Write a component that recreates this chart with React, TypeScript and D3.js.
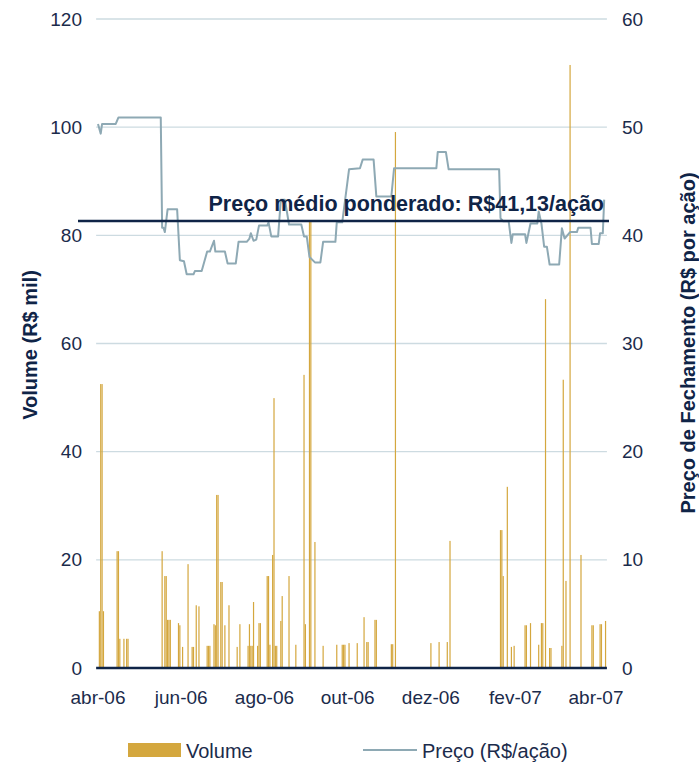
import React from "react";
import * as d3 from "d3";

const volumeDates = [
  "2006-04-02","2006-04-03","2006-04-04","2006-04-05","2006-04-15","2006-04-16","2006-04-17","2006-04-20","2006-04-22","2006-04-23",
  "2006-05-18","2006-05-20","2006-05-21","2006-05-22","2006-05-23","2006-05-24","2006-05-30","2006-05-31",
  "2006-06-02","2006-06-06","2006-06-09","2006-06-10","2006-06-12","2006-06-14","2006-06-20","2006-06-21","2006-06-22","2006-06-25","2006-06-26","2006-06-27","2006-06-28","2006-06-30",
  "2006-07-01","2006-07-03","2006-07-06","2006-07-12","2006-07-14","2006-07-20","2006-07-21","2006-07-22","2006-07-23","2006-07-24","2006-07-27","2006-07-28","2006-07-29",
  "2006-08-03","2006-08-04","2006-08-05","2006-08-07","2006-08-08","2006-08-09","2006-08-10","2006-08-13","2006-08-14","2006-08-19","2006-08-24","2006-08-30","2006-08-31",
  "2006-09-03","2006-09-04","2006-09-07","2006-09-13","2006-09-23","2006-09-27","2006-09-28","2006-09-29",
  "2006-10-02","2006-10-08","2006-10-13","2006-10-15","2006-10-16","2006-10-21","2006-10-22",
  "2006-11-02","2006-11-03","2006-11-05",
  "2006-12-01","2006-12-07","2006-12-13","2006-12-15",
  "2007-01-21","2007-01-22","2007-01-23","2007-01-26","2007-01-29","2007-01-31",
  "2007-02-08","2007-02-09","2007-02-12","2007-02-18","2007-02-20","2007-02-21","2007-02-23","2007-02-26","2007-02-27",
  "2007-03-07","2007-03-08","2007-03-10","2007-03-13","2007-03-21","2007-03-29","2007-03-30",
  "2007-04-04","2007-04-05","2007-04-08"
];
const volumeValues = [
  10.5,52.5,52.5,10.5,21.6,21.6,5.4,5.4,5.4,5.4,
  21.6,17.0,17.0,8.9,8.9,8.9,8.3,7.9,
  3.9,19.2,3.9,3.9,11.6,11.4,4.1,4.1,4.1,8.1,7.9,32.0,32.0,15.9,
  15.9,7.9,11.6,3.9,8.1,4.1,8.1,4.1,4.1,12.2,4.1,8.3,8.3,
  17.0,17.0,4.3,20.9,49.9,4.1,4.1,8.7,13.3,17.0,4.3,54.2,8.1,
  82.5,82.5,23.3,4.1,4.3,4.3,4.3,4.3,
  4.6,4.6,9.4,4.8,4.8,8.9,8.9,
  4.4,4.4,99.1,
  4.6,4.8,4.8,23.5,
  25.5,25.5,17.0,33.5,3.9,4.1,
  7.9,7.9,8.3,4.3,8.3,8.3,68.2,3.7,3.7,
  4.1,53.3,16.1,111.5,20.9,7.9,7.9,
  8.1,8.1,8.7
];

const priceDates = [
  "2006-04-01","2006-04-03","2006-04-04","2006-04-14","2006-04-16","2006-05-17","2006-05-18","2006-05-19","2006-05-20","2006-05-22",
  "2006-05-29","2006-05-31","2006-06-03","2006-06-05","2006-06-10","2006-06-11","2006-06-16","2006-06-20","2006-06-22","2006-06-25",
  "2006-06-26","2006-07-03","2006-07-05","2006-07-11","2006-07-13","2006-07-19","2006-07-21","2006-07-22","2006-07-24","2006-07-26",
  "2006-07-28","2006-08-03","2006-08-04","2006-08-06","2006-08-11","2006-08-13","2006-08-16","2006-08-19","2006-08-28","2006-08-30",
  "2006-09-01","2006-09-03","2006-09-07","2006-09-11","2006-09-13","2006-09-22","2006-09-23","2006-09-27","2006-10-02","2006-10-10",
  "2006-10-12","2006-10-20","2006-10-22","2006-11-02","2006-11-04","2006-12-05","2006-12-06","2006-12-12","2006-12-14","2007-01-20",
  "2007-01-21","2007-01-23","2007-01-27","2007-01-29","2007-01-30","2007-02-08","2007-02-09","2007-02-12","2007-02-17","2007-02-18",
  "2007-02-20","2007-02-22","2007-02-24","2007-02-26","2007-03-05","2007-03-07","2007-03-09","2007-03-13","2007-03-18","2007-03-19",
  "2007-03-28","2007-03-29","2007-04-03","2007-04-04","2007-04-06","2007-04-07"
];
const priceValues = [
  50.3,49.4,50.3,50.3,50.9,50.9,40.7,40.7,40.3,42.4,
  42.4,37.7,37.6,36.4,36.4,36.7,36.7,38.5,38.5,39.5,
  38.5,38.5,37.4,37.4,39.4,39.4,39.7,40.2,39.5,39.6,
  40.9,40.9,41.2,39.9,39.9,43.3,43.3,41.0,41.0,39.9,
  39.9,38.0,37.5,37.5,39.4,39.4,41.2,41.2,46.1,46.2,
  47.0,47.0,43.6,43.6,46.2,46.2,47.7,47.7,46.1,46.1,
  41.6,41.3,41.3,39.3,40.1,40.1,39.3,41.1,41.1,42.2,
  41.1,38.95,38.95,37.3,37.3,40.65,39.7,40.3,40.3,40.7,
  40.7,39.2,39.2,40.2,40.2,43.3
];

const weightedAvgPrice = 41.13;
const avgLabel = "Preço médio ponderado: R$41,13/ação";

const tickDates = ["2006-04-01","2006-06-01","2006-08-01","2006-10-01","2006-12-01","2007-02-01","2007-04-01"];
const tickLabels = ["abr-06","jun-06","ago-06","out-06","dez-06","fev-07","abr-07"];
const volumeTicks = [0, 20, 40, 60, 80, 100, 120];
const priceTicks = [0, 10, 20, 30, 40, 50, 60];

const GOLD = "#d4a73e";
const PRICE = "#8ea9b4";
const NAVY = "#0f2447";
const TEXT = "#1b2b4b";
const GRID = "#cddbe1";
const FONT = "'Liberation Sans', Arial, sans-serif";

export default function App() {
  const parse = d3.timeParse("%Y-%m-%d");
  const x = d3.scaleTime().domain([parse("2006-04-01")!, parse("2007-04-01")!]).range([98, 596]);
  const yVol = d3.scaleLinear().domain([0, 120]).range([668, 19]);
  const yPrice = d3.scaleLinear().domain([0, 60]).range([668, 19]);
  const x0 = x(parse("2006-03-31")!) - 0.5;
  const x1 = x(parse("2007-04-09")!);

  const bars = volumeDates.map((d, i) => ({ date: parse(d)!, v: volumeValues[i] }));
  const prices = priceDates.map((d, i) => ({ date: parse(d)!, v: priceValues[i] }));
  const line = d3.line<{ date: Date; v: number }>().x(d => x(d.date)).y(d => yPrice(d.v));
  const bw = 1.2;
  const avgY = yPrice(weightedAvgPrice) - 2;

  return (
    <svg width={699} height={763} style={{ position: "absolute", left: 0, top: 0, background: "#fff" }} fontFamily={FONT}>
      {volumeTicks.filter(t => t > 0).map(t => (
        <line key={t} x1={x0} x2={x1} y1={yVol(t)} y2={yVol(t)} stroke={GRID} strokeWidth={1.3} />
      ))}
      {bars.map((b, i) => (
        <rect key={i} x={x(b.date) - bw / 2} y={yVol(b.v)} width={bw} height={yVol(0) - yVol(b.v)} fill={GOLD} />
      ))}
      <path d={line(prices) || ""} fill="none" stroke={PRICE} strokeWidth={2} strokeLinejoin="round" />
      <line x1={x0} x2={x1} y1={yVol(0)} y2={yVol(0)} stroke={NAVY} strokeWidth={2.5} />
      <line x1={78} x2={609} y1={avgY} y2={avgY} stroke={NAVY} strokeWidth={2.5} />
      <text x={604} y={avgY - 10} textAnchor="end" fontSize={21.5} fontWeight="bold" fill={NAVY}>{avgLabel}</text>
      {volumeTicks.map(t => (
        <text key={t} x={82} y={yVol(t)} dy="0.35em" textAnchor="end" fontSize={19} fill={TEXT}>{t}</text>
      ))}
      {priceTicks.map(t => (
        <text key={t} x={622} y={yPrice(t)} dy="0.35em" textAnchor="start" fontSize={19} fill={TEXT}>{t}</text>
      ))}
      {tickDates.map((d, i) => (
        <text key={d} x={x(parse(d)!)} y={704} textAnchor="middle" fontSize={19} fill={TEXT}>{tickLabels[i]}</text>
      ))}
      <text transform="translate(37,345) rotate(-90)" textAnchor="middle" fontSize={20} fontWeight="bold" fill={NAVY}>Volume (R$ mil)</text>
      <text transform="translate(695,343) rotate(-90)" textAnchor="middle" fontSize={20} fontWeight="bold" fill={NAVY}>Preço de Fechamento (R$ por ação)</text>
      <rect x={128} y={743} width={53} height={14} fill={GOLD} />
      <text x={186} y={758} fontSize={20} fill={TEXT}>Volume</text>
      <line x1={363} x2={417} y1={750} y2={750} stroke={PRICE} strokeWidth={2} />
      <text x={422} y={758} fontSize={20} fill={TEXT}>Preço (R$/ação)</text>
    </svg>
  );
}
